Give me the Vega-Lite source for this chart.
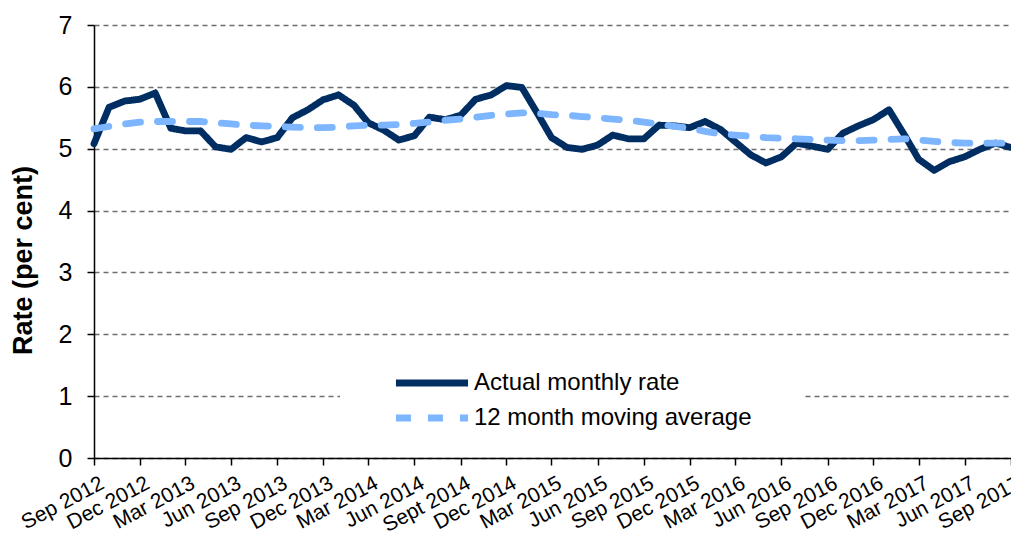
{
  "$schema": "https://vega.github.io/schema/vega-lite/v6.json",
  "width": 917,
  "height": 433,
  "autosize": {"type": "none"},
  "padding": {"left": 94, "top": 25, "right": 0, "bottom": 75},
  "background": "white",
  "config": {
    "view": {"stroke": null},
    "font": "Liberation Sans",
    "legend": {
      "title": null,
      "orient": "none",
      "legendX": 246,
      "legendY": 346,
      "fillColor": "white",
      "padding": 0,
      "clipHeight": 24,
      "symbolType": "stroke",
      "symbolSize": 5200,
      "symbolStrokeWidth": 7,
      "symbolOffset": 52,
      "labelFontSize": 24,
      "labelColor": "black",
      "labelOffset": 2,
      "labelLimit": 600,
      "rowPadding": 11
    }
  },
  "data": {
    "values": [
      {"month": "2012-09-01", "actual": 5.08, "ma": 5.32},
      {"month": "2012-10-01", "actual": 5.67, "ma": 5.36},
      {"month": "2012-11-01", "actual": 5.77, "ma": 5.40},
      {"month": "2012-12-01", "actual": 5.80, "ma": 5.43},
      {"month": "2013-01-01", "actual": 5.90, "ma": 5.44},
      {"month": "2013-02-01", "actual": 5.33, "ma": 5.44},
      {"month": "2013-03-01", "actual": 5.29, "ma": 5.44},
      {"month": "2013-04-01", "actual": 5.29, "ma": 5.44},
      {"month": "2013-05-01", "actual": 5.03, "ma": 5.42},
      {"month": "2013-06-01", "actual": 4.99, "ma": 5.40},
      {"month": "2013-07-01", "actual": 5.18, "ma": 5.38},
      {"month": "2013-08-01", "actual": 5.11, "ma": 5.37},
      {"month": "2013-09-01", "actual": 5.18, "ma": 5.36},
      {"month": "2013-10-01", "actual": 5.50, "ma": 5.35},
      {"month": "2013-11-01", "actual": 5.63, "ma": 5.34},
      {"month": "2013-12-01", "actual": 5.79, "ma": 5.34},
      {"month": "2014-01-01", "actual": 5.87, "ma": 5.35},
      {"month": "2014-02-01", "actual": 5.70, "ma": 5.37},
      {"month": "2014-03-01", "actual": 5.42, "ma": 5.38},
      {"month": "2014-04-01", "actual": 5.30, "ma": 5.38},
      {"month": "2014-05-01", "actual": 5.14, "ma": 5.39},
      {"month": "2014-06-01", "actual": 5.21, "ma": 5.41},
      {"month": "2014-07-01", "actual": 5.51, "ma": 5.43},
      {"month": "2014-08-01", "actual": 5.47, "ma": 5.46},
      {"month": "2014-09-01", "actual": 5.54, "ma": 5.48},
      {"month": "2014-10-01", "actual": 5.80, "ma": 5.51},
      {"month": "2014-11-01", "actual": 5.87, "ma": 5.54},
      {"month": "2014-12-01", "actual": 6.02, "ma": 5.56},
      {"month": "2015-01-01", "actual": 5.99, "ma": 5.58},
      {"month": "2015-02-01", "actual": 5.57, "ma": 5.57},
      {"month": "2015-03-01", "actual": 5.18, "ma": 5.55},
      {"month": "2015-04-01", "actual": 5.02, "ma": 5.54},
      {"month": "2015-05-01", "actual": 4.99, "ma": 5.52},
      {"month": "2015-06-01", "actual": 5.06, "ma": 5.50},
      {"month": "2015-07-01", "actual": 5.22, "ma": 5.48},
      {"month": "2015-08-01", "actual": 5.16, "ma": 5.46},
      {"month": "2015-09-01", "actual": 5.16, "ma": 5.43},
      {"month": "2015-10-01", "actual": 5.38, "ma": 5.40},
      {"month": "2015-11-01", "actual": 5.37, "ma": 5.36},
      {"month": "2015-12-01", "actual": 5.34, "ma": 5.33},
      {"month": "2016-01-01", "actual": 5.44, "ma": 5.28},
      {"month": "2016-02-01", "actual": 5.31, "ma": 5.24},
      {"month": "2016-03-01", "actual": 5.11, "ma": 5.22},
      {"month": "2016-04-01", "actual": 4.90, "ma": 5.20},
      {"month": "2016-05-01", "actual": 4.77, "ma": 5.18},
      {"month": "2016-06-01", "actual": 4.87, "ma": 5.17},
      {"month": "2016-07-01", "actual": 5.09, "ma": 5.16},
      {"month": "2016-08-01", "actual": 5.04, "ma": 5.15},
      {"month": "2016-09-01", "actual": 4.99, "ma": 5.14},
      {"month": "2016-10-01", "actual": 5.25, "ma": 5.13},
      {"month": "2016-11-01", "actual": 5.37, "ma": 5.13},
      {"month": "2016-12-01", "actual": 5.47, "ma": 5.14},
      {"month": "2017-01-01", "actual": 5.63, "ma": 5.15},
      {"month": "2017-02-01", "actual": 5.22, "ma": 5.16},
      {"month": "2017-03-01", "actual": 4.83, "ma": 5.14},
      {"month": "2017-04-01", "actual": 4.65, "ma": 5.12},
      {"month": "2017-05-01", "actual": 4.79, "ma": 5.10},
      {"month": "2017-06-01", "actual": 4.87, "ma": 5.09},
      {"month": "2017-07-01", "actual": 4.99, "ma": 5.09},
      {"month": "2017-08-01", "actual": 5.09, "ma": 5.09},
      {"month": "2017-09-01", "actual": 5.02, "ma": 5.09}
    ]
  },
  "transform": [
    {"fold": ["actual", "ma"], "as": ["series", "rate"]}
  ],
  "mark": {"type": "line", "strokeCap": "round", "strokeJoin": "round", "strokeWidth": 6.8, "clip": false},
  "encoding": {
    "x": {
      "field": "month",
      "type": "temporal",
      "scale": {
        "type": "utc",
        "nice": false,
        "domain": [
          {"year": 2012, "month": 9, "date": 1, "utc": true},
          {"year": 2017, "month": 9, "date": 1, "utc": true}
        ]
      },
      "axis": {
        "title": null,
        "grid": false,
        "format": "%b %Y",
        "labelExpr": "datum.label == 'Sep 2014' ? 'Sept 2014' : datum.label",
        "values": [
          {"year": 2012, "month": 9, "date": 1, "utc": true},
          {"year": 2012, "month": 12, "date": 1, "utc": true},
          {"year": 2013, "month": 3, "date": 1, "utc": true},
          {"year": 2013, "month": 6, "date": 1, "utc": true},
          {"year": 2013, "month": 9, "date": 1, "utc": true},
          {"year": 2013, "month": 12, "date": 1, "utc": true},
          {"year": 2014, "month": 3, "date": 1, "utc": true},
          {"year": 2014, "month": 6, "date": 1, "utc": true},
          {"year": 2014, "month": 9, "date": 1, "utc": true},
          {"year": 2014, "month": 12, "date": 1, "utc": true},
          {"year": 2015, "month": 3, "date": 1, "utc": true},
          {"year": 2015, "month": 6, "date": 1, "utc": true},
          {"year": 2015, "month": 9, "date": 1, "utc": true},
          {"year": 2015, "month": 12, "date": 1, "utc": true},
          {"year": 2016, "month": 3, "date": 1, "utc": true},
          {"year": 2016, "month": 6, "date": 1, "utc": true},
          {"year": 2016, "month": 9, "date": 1, "utc": true},
          {"year": 2016, "month": 12, "date": 1, "utc": true},
          {"year": 2017, "month": 3, "date": 1, "utc": true},
          {"year": 2017, "month": 6, "date": 1, "utc": true},
          {"year": 2017, "month": 9, "date": 1, "utc": true}
        ],
        "labelAngle": -28,
        "labelAlign": "right",
        "labelBaseline": "top",
        "labelFontSize": 21,
        "labelColor": "black",
        "labelPadding": 7,
        "labelOffset": 3,
        "labelFlush": false,
        "labelOverlap": false,
        "domainColor": "black",
        "domainWidth": 1.5,
        "tickColor": "black",
        "tickWidth": 1.5,
        "tickSize": 7
      }
    },
    "y": {
      "field": "rate",
      "type": "quantitative",
      "scale": {"domain": [0, 7], "nice": false},
      "axis": {
        "title": "Rate (per cent)",
        "titleFontSize": 27,
        "titleFontWeight": "bold",
        "titleColor": "black",
        "titleX": -57,
        "titleY": 235,
        "values": [0, 1, 2, 3, 4, 5, 6, 7],
        "labelFontSize": 25,
        "labelColor": "black",
        "labelPadding": 15,
        "domainColor": "black",
        "domainWidth": 1.5,
        "tickColor": "black",
        "tickWidth": 1.5,
        "tickSize": 7,
        "grid": true,
        "gridColor": "#6e6e6e",
        "gridDash": [5, 4],
        "gridWidth": 1.4
      }
    },
    "color": {
      "field": "series",
      "type": "nominal",
      "scale": {"domain": ["actual", "ma"], "range": ["#002D62", "#7DB5FF"]},
      "legend": {
        "labelExpr": "(datum.label == 'actual' ? 'Actual monthly rate' : '12 month moving average') + '\u00a0\u00a0\u00a0\u00a0\u00a0\u00a0\u00a0\u00a0\u200b'"
      }
    },
    "strokeDash": {
      "field": "series",
      "type": "nominal",
      "scale": {"domain": ["actual", "ma"], "range": [[1, 0], [15, 17]]},
      "legend": {
        "labelExpr": "(datum.label == 'actual' ? 'Actual monthly rate' : '12 month moving average') + '\u00a0\u00a0\u00a0\u00a0\u00a0\u00a0\u00a0\u00a0\u200b'"
      }
    }
  }
}
